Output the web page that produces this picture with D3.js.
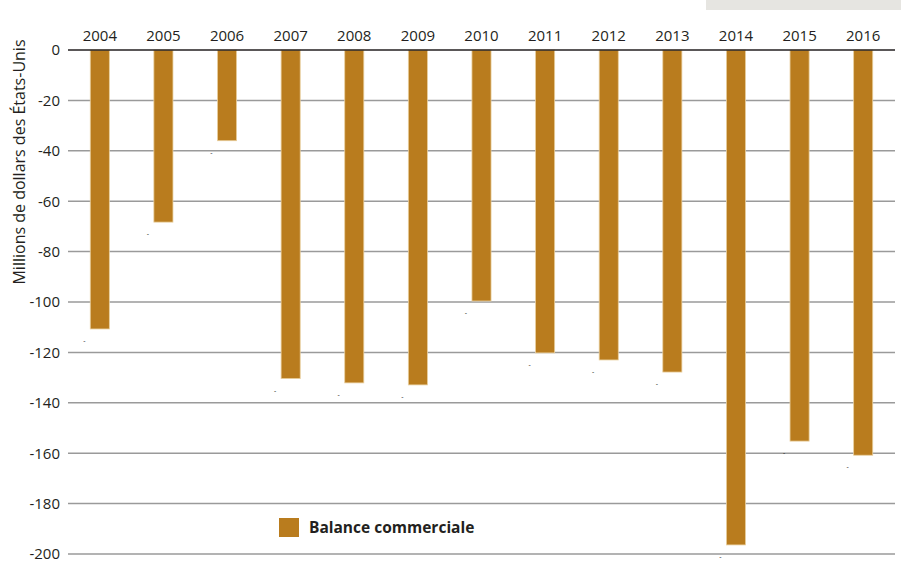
<!DOCTYPE html>
<html>
<head>
<meta charset="utf-8">
<script src="https://cdn.jsdelivr.net/npm/d3@7"></script>
<style>
  body { margin: 0; background: #fff; }
  text { font-family: 'Open Sans', 'Noto Sans', sans-serif; fill: #231f20; }
</style>
</head>
<body>
<svg id="chart" width="901" height="568"></svg>
<script>
const years = ['2004', '2005', '2006', '2007', '2008', '2009', '2010', '2011', '2012', '2013', '2014', '2015', '2016'];
const balance = [-110.7, -68.3, -36.0, -130.4, -132.1, -132.9, -99.6, -120.2, -123.0, -127.8, -196.4, -155.2, -160.8];
const yTicks = [0, -20, -40, -60, -80, -100, -120, -140, -160, -180, -200];
const seriesName = 'Balance commerciale';
const yTitle = 'Millions de dollars des États-Unis';

const svg = d3.select('#chart');
const margin = {left: 68, right: 6, top: 50, bottom: 14};
const width = 901, height = 568;

// grey strip top right
svg.append('rect')
  .attr('x', 706).attr('y', 0)
  .attr('width', 195).attr('height', 10)
  .attr('fill', '#e6e5e1');

const x = d3.scaleBand()
  .domain(years)
  .range([margin.left, width - margin.right])
  .paddingInner(0.7)
  .paddingOuter(0.35);

const y = d3.scaleLinear()
  .domain([0, -200])
  .range([margin.top, 554]);

// gridlines
svg.append('g')
  .selectAll('line')
  .data(yTicks.filter(d => d !== 0))
  .enter().append('line')
  .attr('x1', margin.left).attr('x2', width - margin.right)
  .attr('y1', d => y(d)).attr('y2', d => y(d))
  .attr('stroke', '#9a9a9a')
  .attr('stroke-width', 1.5);

// y axis labels (plain hyphen like the original)
const yAxis = svg.append('g')
  .attr('transform', 'translate(' + margin.left + ',0)')
  .call(d3.axisLeft(y).tickValues(yTicks).tickSize(0).tickPadding(8).tickFormat(d => String(d)));
yAxis.select('.domain').remove();
yAxis.selectAll('text')
  .style('font-size', '15px')
  .attr('fill', '#231f20');

// bars
svg.append('g')
  .selectAll('rect')
  .data(balance)
  .enter().append('rect')
  .attr('x', (d, i) => x(years[i]))
  .attr('y', y(0))
  .attr('width', x.bandwidth())
  .attr('height', d => y(d) - y(0))
  .attr('fill', '#b97c1e')
  .attr('stroke', '#e9cf9e')
  .attr('stroke-width', 0.8);

// leftover minus signs of value labels
svg.append('g')
  .selectAll('text')
  .data(balance)
  .enter().append('text')
  .attr('x', (d, i) => x(years[i]) - 6)
  .attr('y', d => y(d) + 14)
  .attr('text-anchor', 'middle')
  .style('font-size', '7px')
  .attr('fill', '#555')
  .text('-');

// zero line
svg.append('line')
  .attr('x1', margin.left).attr('x2', width - margin.right)
  .attr('y1', y(0)).attr('y2', y(0))
  .attr('stroke', '#231f20')
  .attr('stroke-width', 1.5);

// year labels on top
const xAxis = svg.append('g')
  .attr('transform', 'translate(0,' + (y(0) - 1) + ')')
  .call(d3.axisTop(x).tickSize(0).tickPadding(8));
xAxis.select('.domain').remove();
xAxis.selectAll('text')
  .style('font-size', '15px')
  .attr('fill', '#231f20');

// y title
svg.append('text')
  .attr('transform', 'translate(25,162)rotate(-90)')
  .attr('text-anchor', 'middle')
  .style('font-size', '16px')
  .text(yTitle);

// legend
const legend = svg.append('g').attr('transform', 'translate(279,518)');
legend.append('rect')
  .attr('width', 20).attr('height', 19)
  .attr('fill', '#b97c1e');
legend.append('text')
  .attr('x', 30).attr('y', 15)
  .style('font-size', '15.5px')
  .style('font-weight', 'bold')
  .text(seriesName);
</script>
</body>
</html>
